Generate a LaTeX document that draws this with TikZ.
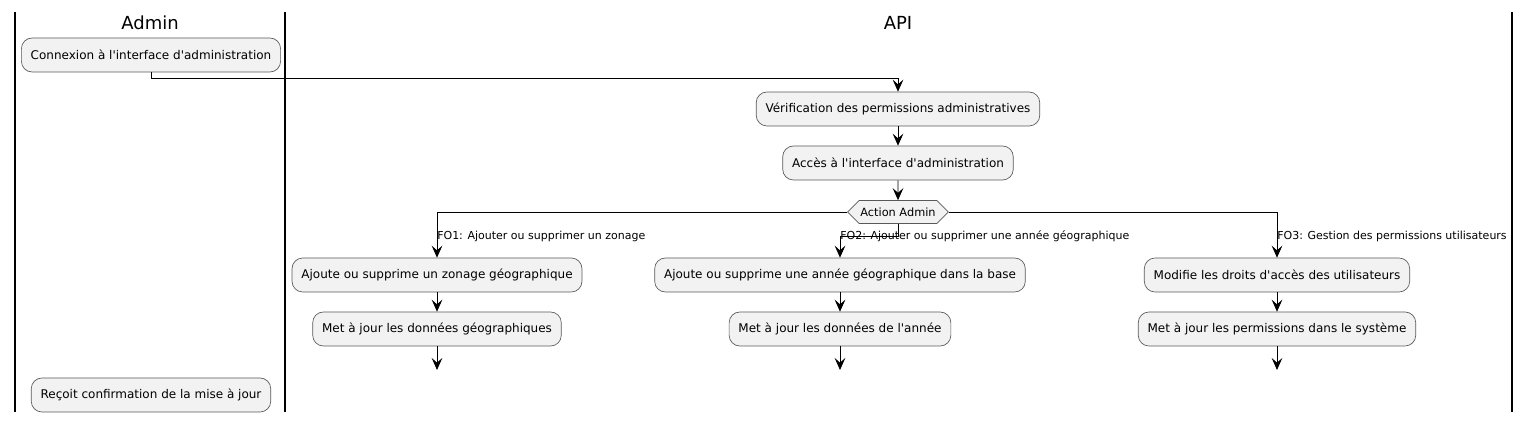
\documentclass[tikz,border=0pt]{standalone}
\usepackage{fontspec}
\setmainfont{DejaVu Sans}[Ligatures=TeXOff]
\usetikzlibrary{shapes.symbols, arrows.meta}

\tikzset{
  lanetitle/.style={font=\fontsize{13.5}{16}\selectfont},
  action/.style={draw=black!65, line width=0.5pt, fill=black!5, rounded corners=8pt,
    minimum height=25.5pt, inner xsep=7pt, font=\fontsize{9}{11}\selectfont},
  choice/.style={signal, signal to=west and east, draw=black!65, line width=0.5pt,
    fill=black!5, minimum height=17.25pt, inner xsep=1pt, font=\fontsize{8.5}{10}\selectfont},
  flow/.style={-{Stealth[length=9pt,width=8pt,inset=3.5pt]}, line width=0.65pt},
  guard/.style={font=\fontsize{8.25}{10}\selectfont, anchor=west, inner sep=0pt},
}

\begin{document}
\begin{tikzpicture}[x=0.75pt, y=-0.75pt]
    \useasboundingbox (0,0) rectangle (1529,423);
    % Swimlanes
    \foreach \x in {15,285,1512}
        \draw[line width=1.3pt] (\x,12) -- (\x,412);
    \node[lanetitle] (admin) at (150,23) {Admin};
    \node[lanetitle] (api) at (898,23) {API};

    % Admin lane
    \node[action] (connexion) at (151,55) {Connexion à l'interface d'administration};
    \node[action] (recoit) at (151,395) {Reçoit confirmation de la mise à jour};

    % API lane
    \node[action] (verif) at (898,109) {Vérification des permissions administratives};
    \node[action] (acces) at (898,163) {Accès à l'interface d'administration};
    \node[choice] (choix) at (898,212) {Action Admin};

    % Branches
    \node[action] (zonage) at (437,275) {Ajoute ou supprime un zonage géographique};
    \node[action] (majgeo) at (437,329) {Met à jour les données géographiques};
    \node[action] (annee) at (840,275) {Ajoute ou supprime une année géographique dans la base};
    \node[action] (majannee) at (840,329) {Met à jour les données de l'année};
    \node[action] (droits) at (1277,275) {Modifie les droits d'accès des utilisateurs};
    \node[action] (majperm) at (1277,329) {Met à jour les permissions dans le système};
    \coordinate (fingeo) at (437,370);
    \coordinate (finannee) at (840,370);
    \coordinate (finperm) at (1277,370);

    % Connectors
    \draw[flow] (connexion.south) -- ++(0,6) -| (verif.north);
    \draw[flow] (verif) -- (acces);
    \draw[flow] (acces) -- (choix);
    \draw[flow] (choix.west) -| (zonage.north);
    \draw[flow] (choix.south) -- ++(0,13) -| (annee.north);
    \draw[flow] (choix.east) -| (droits.north);
    \draw[flow] (zonage) -- (majgeo);
    \draw[flow] (annee) -- (majannee);
    \draw[flow] (droits) -- (majperm);
    \draw[flow] (majgeo) -- (fingeo);
    \draw[flow] (majannee) -- (finannee);
    \draw[flow] (majperm) -- (finperm);

    % Guards
    \node[guard] (fo1) at (437,236) {FO1: Ajouter ou supprimer un zonage};
    \node[guard] (fo2) at (840,236) {FO2: Ajouter ou supprimer une année géographique};
    \node[guard] (fo3) at (1277,236) {FO3: Gestion des permissions utilisateurs};
\end{tikzpicture}
\end{document}
